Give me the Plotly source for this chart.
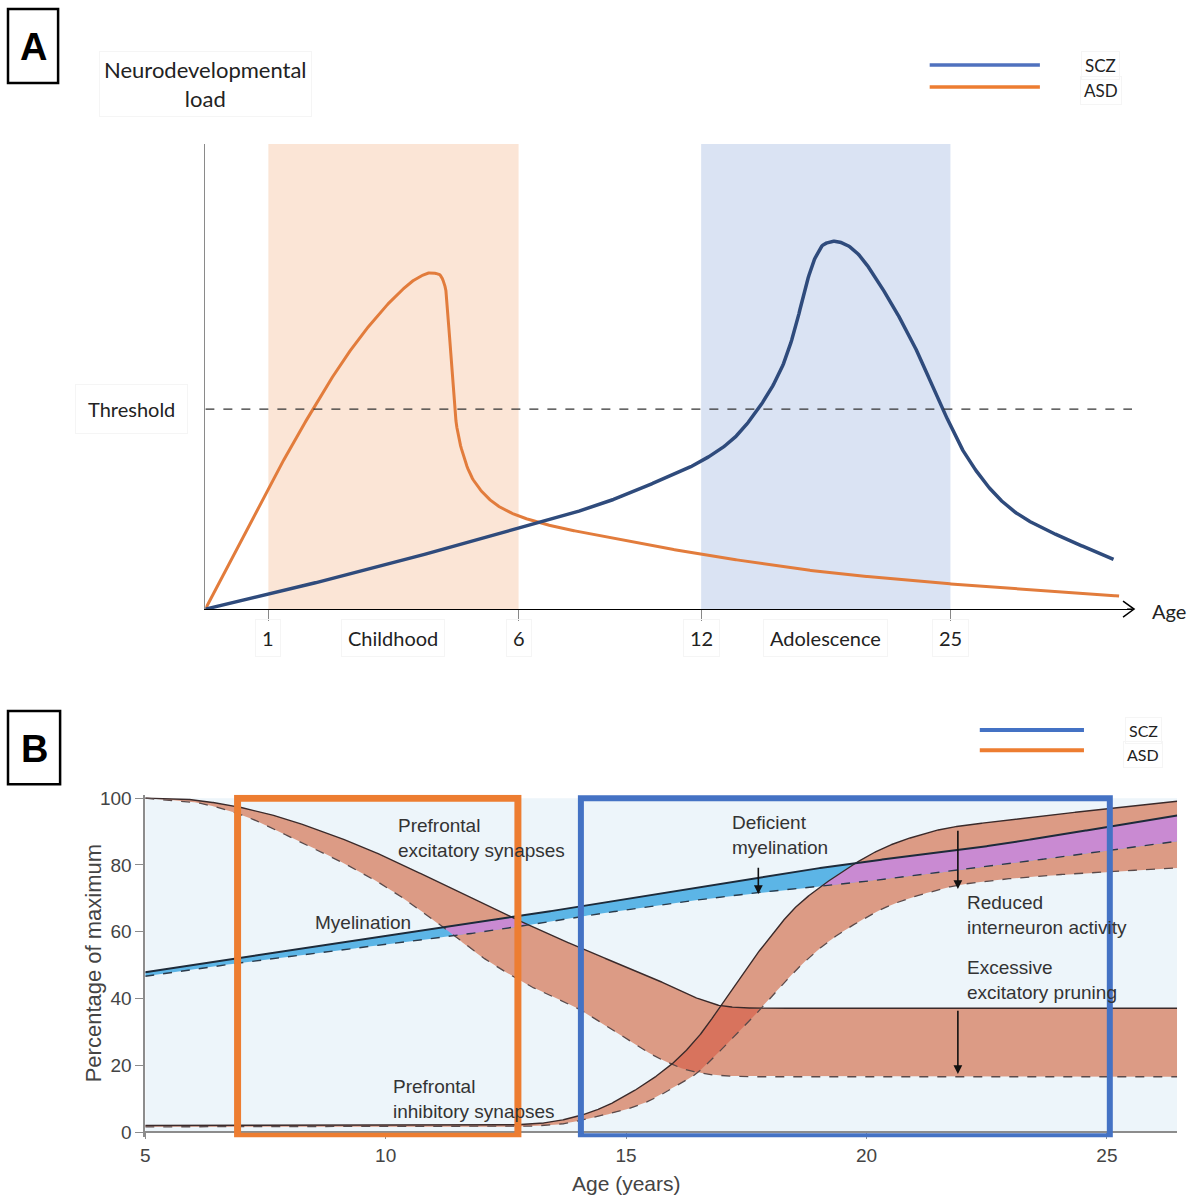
import numpy as np
import plotly.graph_objects as go

W, H = 1195, 1200

# ---------------- Panel A data (schematic position 0-100, load 0-100) ----------------
a_tick_pos = [6.8, 33.8, 53.5, 80.4]
a_tick_text = ["1", "6", "12", "25"]
a_phase_labels = ["Childhood", "Adolescence"]
childhood_span = [6.8, 33.8]
adolescence_span = [53.5, 80.4]
threshold_level = 43

asd_x = [0, 6.85, 9.19, 11.7, 14.6, 17.5, 20.4, 22.9, 24.3, 25.2, 25.9, 26.3, 26.7,
         27.0, 27.6, 29.0, 31.9, 35.5, 42.7, 51.4, 53.5, 65.8, 80.5, 98.6]
asd_y = [0, 26.1, 34.7, 43.3, 52.6, 60.5, 67.0, 71.2, 72.3, 72.0, 69.1, 59.8, 49.0,
         41.1, 34.7, 27.5, 21.8, 18.9, 15.7, 12.5, 11.8, 8.2, 5.4, 2.8]

scz_x = [0, 6.85, 17.5, 28.3, 36.6, 42.7, 48.0, 51.4, 53.5, 56.8, 59.6, 62.2, 63.6, 64.8,
         65.8, 66.8, 67.9, 69.0, 70.1, 73.0, 76.6, 79.5, 82.0, 85.6, 88.0, 91.0, 98.0]
scz_y = [0, 3.2, 8.5, 14.3, 18.9, 22.6, 26.8, 29.7, 31.8, 36.3, 42.9, 51.9, 60.0, 69.5,
         75.5, 78.5, 79.1, 78.5, 77.0, 69.1, 56.2, 43.3, 33.3, 23.9, 20.0, 16.8, 10.7]

legend_names = ["SCZ", "ASD"]

# ---------------- Panel B data (age in years, % of maximum) ----------------
b_x_ticks = [5, 10, 15, 20, 25]
b_y_ticks = [0, 20, 40, 60, 80, 100]
b_x_range = [5, 26.46]
scz_window = [14.06, 25.06]
asd_window = [6.92, 12.75]

exc_solid_x = [5, 5.7, 6.5, 7.5, 8.5, 9.5, 10.5, 11.5, 12.6, 14.04, 15.58, 16.5, 17.0, 17.5, 18.2, 26.46]
exc_solid_y = [100, 99.8, 98.5, 95.5, 91.0, 85.5, 79.0, 72.0, 64.5, 55.2, 46.0, 40.0, 37.8, 37.2, 37.1, 37.1]
exc_dash_x = [5, 6.0, 7.0, 8.0, 9.0, 10.0, 11.0, 12.0, 13.0, 14.0, 15.0, 15.7, 16.3, 17.0, 17.6, 26.46]
exc_dash_y = [100, 98.8, 95.0, 88.5, 81.5, 73.5, 63.5, 52.5, 43.8, 37.0, 28.0, 22.0, 18.5, 16.9, 16.6, 16.6]

inh_solid_x = [5, 12.0, 13.0, 13.5, 14.0, 14.5, 15.0, 15.5, 16.0, 16.5, 17.0, 17.5, 18.0, 18.5, 19.0,
               19.5, 20.0, 20.5, 21.0, 21.66, 22.86, 26.46]
inh_solid_y = [2.0, 2.0, 2.4, 3.2, 4.8, 7.3, 11.0, 15.5, 21.0, 28.5, 38.5, 49.0, 58.5, 67.0, 73.0,
               78.0, 82.5, 86.0, 88.5, 91.0, 93.3, 99.1]
inh_dash_x = [5, 12.5, 13.5, 14.29, 15.0, 15.5, 16.0, 16.44, 17.0, 17.29, 18.0, 18.58, 19.2, 19.86,
              20.5, 21.15, 22.0, 23.72, 26.46]
inh_dash_y = [1.6, 1.6, 2.2, 4.3, 6.8, 9.5, 13.5, 17.3, 25.0, 29.2, 40.0, 49.2, 57.0, 63.2,
              68.0, 71.2, 74.2, 76.8, 79.1]

mye_solid_x = [5, 6.92, 12.6, 19.78, 22.0, 26.46]
mye_solid_y = [47.9, 52.1, 64.3, 80.6, 84.6, 94.8]
mye_dash_x = [5, 6.98, 12.6, 13.44, 17.72, 19.44, 22.0, 26.46]
mye_dash_y = [46.7, 50.7, 61.2, 63.2, 71.7, 74.2, 78.6, 87.1]

# arrows (x, y_from, y_to)
arrow_defs = [(17.75, 79.6, 71.3), (21.9, 90.7, 72.8), (21.9, 36.8, 17.4)]


def pchip(x, y, xs):
    x = np.asarray(x, float)
    y = np.asarray(y, float)
    h = np.diff(x)
    d = np.diff(y) / h
    n = len(x)
    m = np.zeros(n)
    for k in range(1, n - 1):
        if d[k - 1] * d[k] > 0:
            w1 = 2 * h[k] + h[k - 1]
            w2 = h[k] + 2 * h[k - 1]
            m[k] = (w1 + w2) / (w1 / d[k - 1] + w2 / d[k])
    m[0] = d[0]
    m[-1] = d[-1]
    idx = np.clip(np.searchsorted(x, xs, side="right") - 1, 0, n - 2)
    t = (xs - x[idx]) / h[idx]
    h00 = 2 * t**3 - 3 * t**2 + 1
    h10 = t**3 - 2 * t**2 + t
    h01 = -2 * t**3 + 3 * t**2
    h11 = t**3 - t**2
    return h00 * y[idx] + h10 * h[idx] * m[idx] + h01 * y[idx + 1] + h11 * h[idx] * m[idx + 1]


# layout helpers: convert target-picture pixel positions to paper fractions
# (small compensation for the inset observed in the captured page)
SX, OX = 0.994, 5.0
SY, OY = 0.989, 6.0


def px(xp):
    return min(max(((xp - OX) / SX) / W, 0.0), 1.0)


def py(yp):
    return min(max(1 - ((yp - OY) / SY) / H, 0.0), 1.0)


fig = go.Figure()

# ---------------- Panel A ----------------
A_ORANGE = "#e27c3c"
A_NAVY = "#2f4b7c"
xa = np.linspace(asd_x[0], asd_x[-1], 1000)
fig.add_trace(go.Scatter(x=xa, y=pchip(asd_x, asd_y, xa), mode="lines",
                         line=dict(color=A_ORANGE, width=3), xaxis="x", yaxis="y",
                         showlegend=False, hoverinfo="skip"))
xs_ = np.linspace(scz_x[0], scz_x[-1], 1000)
fig.add_trace(go.Scatter(x=xs_, y=pchip(scz_x, scz_y, xs_), mode="lines",
                         line=dict(color=A_NAVY, width=3.5), xaxis="x", yaxis="y",
                         showlegend=False, hoverinfo="skip"))
fig.add_trace(go.Scatter(x=[0, 100], y=[threshold_level, threshold_level], mode="lines",
                         line=dict(color="#333333", width=1.4, dash="dash"),
                         xaxis="x", yaxis="y", showlegend=False, hoverinfo="skip"))

shapes = []
shapes.append(dict(type="rect", xref="x", yref="y", x0=childhood_span[0], x1=childhood_span[1],
                   y0=0, y1=100, fillcolor="#fbe5d6", line=dict(width=0), layer="below"))
shapes.append(dict(type="rect", xref="x", yref="y", x0=adolescence_span[0], x1=adolescence_span[1],
                   y0=0, y1=100, fillcolor="#dae3f3", line=dict(width=0), layer="below"))
# arrow head at end of age axis
shapes.append(dict(type="path", xref="paper", yref="paper",
                   path=f"M {px(1121)},{py(600)} L {px(1132)},{py(608)} L {px(1121)},{py(616)}",
                   line=dict(color="black", width=1.5)))
shapes.append(dict(type="line", xref="paper", yref="paper", x0=px(1125), x1=px(1132),
                   y0=py(608), y1=py(608), line=dict(color="black", width=1.3)))

annotations = []
LATO = "Lato"
faint = "#f5f5f5"
annotations.append(dict(text="Neurodevelopmental<br>load", x=px(205), y=py(83), xref="paper", yref="paper",
                        showarrow=False, font=dict(family=LATO, size=22, color="#222"),
                        bordercolor=faint, borderpad=4, xanchor="center", yanchor="middle"))
annotations.append(dict(text="Threshold", x=px(131), y=py(408), xref="paper", yref="paper",
                        showarrow=False, font=dict(family=LATO, size=20, color="#222"),
                        bordercolor=faint, borderpad=12, xanchor="center", yanchor="middle"))
annotations.append(dict(text="Age", x=px(1167), y=py(610), xref="paper", yref="paper",
                        showarrow=False, font=dict(family=LATO, size=20, color="#222"),
                        xanchor="center", yanchor="middle"))
for pos, lab in zip(a_tick_pos, a_tick_text):
    annotations.append(dict(text=lab, x=pos, y=py(637), xref="x", yref="paper", showarrow=False,
                            font=dict(family=LATO, size=20, color="#222"), bordercolor=faint,
                            borderpad=6, xanchor="center", yanchor="middle"))
for span, lab in zip([childhood_span, adolescence_span], a_phase_labels):
    annotations.append(dict(text=lab, x=(span[0] + span[1]) / 2, y=py(637), xref="x", yref="paper",
                            showarrow=False, font=dict(family=LATO, size=20, color="#222"),
                            bordercolor=faint, borderpad=6, xanchor="center", yanchor="middle"))

# Legend A
shapes.append(dict(type="line", xref="paper", yref="paper", x0=px(928), x1=px(1038), y0=py(64), y1=py(64),
                   line=dict(color="#4f71be", width=3.5)))
shapes.append(dict(type="line", xref="paper", yref="paper", x0=px(928), x1=px(1038), y0=py(86), y1=py(86),
                   line=dict(color="#ed7d31", width=3.5)))
for name, yy in zip(legend_names, [64, 89]):
    annotations.append(dict(text=name, x=px(1099), y=py(yy), xref="paper", yref="paper", showarrow=False,
                            font=dict(family=LATO, size=17, color="#222"), bordercolor=faint, borderpad=3,
                            xanchor="center", yanchor="middle"))

# Panel labels
for lab, (x0, y0, x1, y1) in zip(["A", "B"], [(8, 8, 58, 82), (8, 710, 60, 783)]):
    shapes.append(dict(type="rect", xref="paper", yref="paper", x0=px(x0), x1=px(x1), y0=py(y0), y1=py(y1),
                       line=dict(color="black", width=2.5), fillcolor="rgba(0,0,0,0)"))
    annotations.append(dict(text=f"<b>{lab}</b>", x=px((x0 + x1) / 2), y=py((y0 + y1) / 2 + 1),
                            xref="paper", yref="paper", showarrow=False,
                            font=dict(family="Liberation Sans", size=38, color="black"),
                            xanchor="center", yanchor="middle"))

# ---------------- Panel B ----------------
SALMON = "#dc9b85"
DARK = "#d8735d"
BLUE = "#5cb5e6"
PURPLE = "#c98ad2"

xb = np.linspace(b_x_range[0], b_x_range[1], 1400)
exc_hi = pchip(exc_solid_x, exc_solid_y, xb)
exc_lo = pchip(exc_dash_x, exc_dash_y, xb)
inh_hi = pchip(inh_solid_x, inh_solid_y, xb)
inh_lo = pchip(inh_dash_x, inh_dash_y, xb)
mye_hi = pchip(mye_solid_x, mye_solid_y, xb)
mye_lo = pchip(mye_dash_x, mye_dash_y, xb)

shapes.append(dict(type="rect", xref="x2", yref="y2", x0=b_x_range[0], x1=b_x_range[1], y0=0, y1=100,
                   fillcolor="#edf5fa", line=dict(width=0), layer="below"))


def add_region(lo, hi, color):
    valid = hi > lo + 0.02
    idx = np.where(valid)[0]
    if len(idx) == 0:
        return
    splits = np.where(np.diff(idx) > 1)[0] + 1
    for run in np.split(idx, splits):
        if len(run) < 2:
            continue
        xx = np.concatenate([xb[run], xb[run][::-1]])
        yy = np.concatenate([hi[run], lo[run][::-1]])
        fig.add_trace(go.Scatter(x=xx, y=yy, fill="toself", fillcolor=color, mode="lines",
                                 line=dict(width=0), xaxis="x2", yaxis="y2",
                                 showlegend=False, hoverinfo="skip"))


add_region(exc_lo, exc_hi, SALMON)
add_region(inh_lo, inh_hi, SALMON)
add_region(mye_lo, mye_hi, BLUE)
add_region(np.maximum(exc_lo, inh_lo), np.minimum(exc_hi, inh_hi), DARK)
add_region(np.maximum(mye_lo, inh_lo), np.minimum(mye_hi, inh_hi), PURPLE)
add_region(np.maximum(mye_lo, exc_lo), np.minimum(mye_hi, exc_hi), PURPLE)

for yy, col, w, dash in [(exc_hi, "#3a2a2a", 1.4, "solid"), (exc_lo, "#5a4a4a", 1.3, "dash"),
                         (inh_hi, "#3a2a2a", 1.4, "solid"), (inh_lo, "#5a4a4a", 1.3, "dash"),
                         (mye_lo, "#2a3a4a", 1.4, "dash"), (mye_hi, "#1d2b3a", 2.0, "solid")]:
    fig.add_trace(go.Scatter(x=xb, y=yy, mode="lines", line=dict(color=col, width=w, dash=dash),
                             xaxis="x2", yaxis="y2", showlegend=False, hoverinfo="skip"))

# highlight windows
shapes.append(dict(type="rect", xref="x2", yref="y2", x0=asd_window[0], x1=asd_window[1], y0=-1.2, y1=100,
                   line=dict(color="#ed7d31", width=7), fillcolor="rgba(0,0,0,0)", layer="above"))
shapes.append(dict(type="rect", xref="x2", yref="y2", x0=scz_window[0], x1=scz_window[1], y0=-1.2, y1=100,
                   line=dict(color="#4472c4", width=6), fillcolor="rgba(0,0,0,0)", layer="above"))

for (ax_, y0_, y1_) in arrow_defs:
    annotations.append(dict(x=ax_, y=y1_, ax=ax_, ay=y0_, xref="x2", yref="y2", axref="x2", ayref="y2",
                            text="", showarrow=True, arrowhead=2, arrowsize=1.1, arrowwidth=1.6,
                            arrowcolor="#111"))

ARIAL = "Liberation Sans"
TXT = "#333333"
b_labels = [
    ("Prefrontal<br>excitatory synapses", 395, 837),
    ("Myelination", 312, 921),
    ("Deficient<br>myelination", 729, 834),
    ("Reduced<br>interneuron activity", 963, 914),
    ("Excessive<br>excitatory pruning", 963, 979),
    ("Prefrontal<br>inhibitory synapses", 390, 1098),
]
for txt, xx, yy in b_labels:
    annotations.append(dict(text=txt, x=px(xx), y=py(yy), xref="paper", yref="paper", showarrow=False,
                            align="left", xanchor="left", yanchor="middle",
                            font=dict(family=ARIAL, size=19, color=TXT)))

# Legend B
shapes.append(dict(type="line", xref="paper", yref="paper", x0=px(978), x1=px(1082), y0=py(729), y1=py(729),
                   line=dict(color="#4472c4", width=4)))
shapes.append(dict(type="line", xref="paper", yref="paper", x0=px(978), x1=px(1082), y0=py(749), y1=py(749),
                   line=dict(color="#ed7d31", width=4)))
for name, yy in zip(legend_names, [729, 753]):
    annotations.append(dict(text=name, x=px(1141), y=py(yy), xref="paper", yref="paper", showarrow=False,
                            font=dict(family=LATO, size=16, color="#222"), bordercolor=faint, borderpad=3,
                            xanchor="center", yanchor="middle"))

annotations.append(dict(text="Age (years)", x=px(625), y=0, xref="paper", yref="paper", showarrow=False,
                        font=dict(family=ARIAL, size=21, color="#444"), xanchor="center", yanchor="bottom",
                        yshift=-3))
annotations.append(dict(text="Percentage of maximum", x=px(93), y=py(962), xref="paper", yref="paper",
                        showarrow=False, textangle=-90,
                        font=dict(family=ARIAL, size=22, color="#444"), xanchor="center", yanchor="middle"))

fig.update_layout(
    width=W, height=H, margin=dict(l=0, r=0, t=0, b=0),
    paper_bgcolor="white", plot_bgcolor="rgba(0,0,0,0)",
    showlegend=False, shapes=shapes, annotations=annotations,
    xaxis=dict(domain=[px(205), px(1130)], range=[0, 100], anchor="y", showgrid=False, zeroline=False,
               showline=True, linecolor="black", linewidth=1.3, tickvals=a_tick_pos,
               ticktext=["" for _ in a_tick_pos], ticks="outside", ticklen=11, tickcolor="#888",
               tickwidth=1.2, fixedrange=True),
    yaxis=dict(domain=[py(608), py(143)], range=[0, 100], anchor="x", showgrid=False, zeroline=False,
               showline=True, linecolor="#8a8a8a", linewidth=1.2, showticklabels=False, ticks=""),
    xaxis2=dict(domain=[px(145), px(1175)], range=b_x_range, anchor="free", position=py(1131),
                showgrid=False, zeroline=False, showline=True, linecolor="#8c8c8c", linewidth=1.6,
                tickvals=b_x_ticks, ticks="outside", ticklen=6, tickcolor="#8c8c8c", ticklabelstandoff=0,
                tickfont=dict(family=ARIAL, size=19, color="#444")),
    yaxis2=dict(domain=[py(1136), py(793.7)], range=[-1.5, 101], anchor="x2", showgrid=False,
                zeroline=False, showline=True, linecolor="#8c8c8c", linewidth=1.6, tickvals=b_y_ticks,
                ticks="outside", ticklen=8, tickcolor="#8c8c8c",
                tickfont=dict(family=ARIAL, size=19, color="#444")),
)

post = ("document.documentElement.style.margin='0';document.body.style.margin='0';"
        "document.body.style.overflow='hidden';document.documentElement.style.overflow='hidden';"
        "var g=document.getElementsByClassName('plotly-graph-div')[0];"
        "g.style.position='fixed';g.style.top='0px';g.style.left='0px';")
fig.write_html("out.html", config={"displayModeBar": False}, post_script=post)
